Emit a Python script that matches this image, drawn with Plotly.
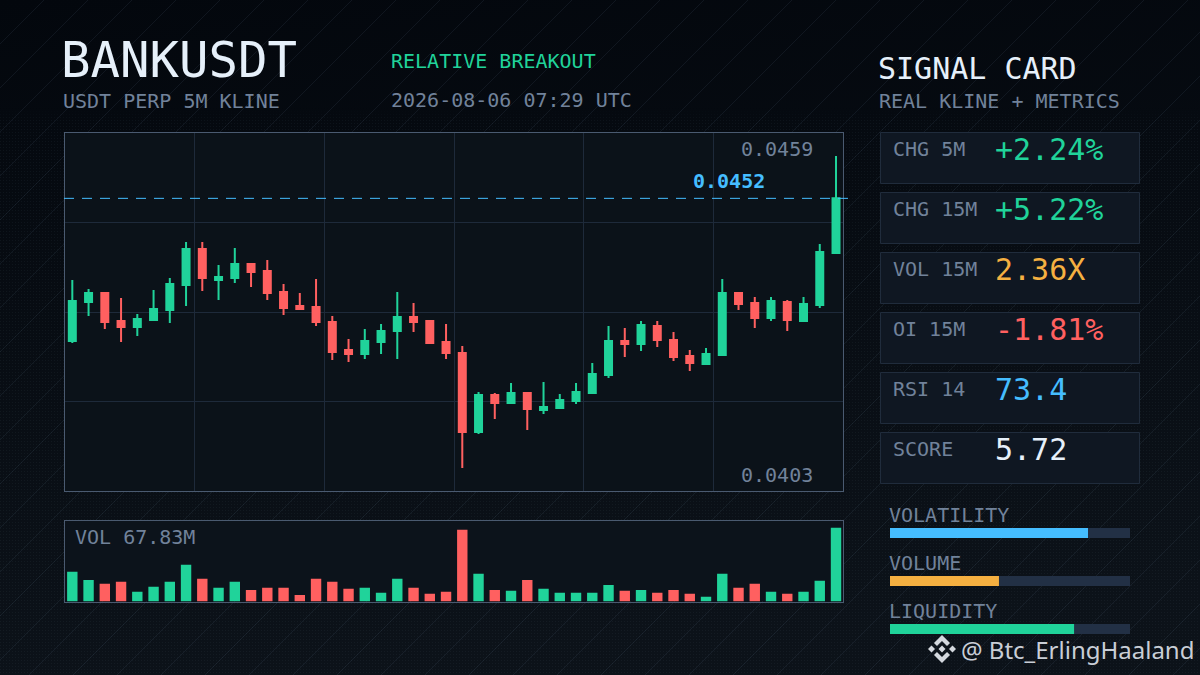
import base64
import plotly.graph_objects as go

# ---------- data ----------
OPEN = [0.042566,0.043277,0.043441,0.042931,0.042821,0.042949,0.043131,0.043587,0.044244,0.043679,0.043715,0.043970,
        0.043843,0.043460,0.043204,0.043186,0.042913,0.042402,0.042329,0.042548,0.042748,0.043004,0.042931,0.042548,
        0.042346,0.040906,0.041580,0.041434,0.041617,0.041307,0.041343,0.041471,0.041617,0.041945,0.042565,0.042511,
        0.042839,0.042584,0.042292,0.042146,0.042310,0.043441,0.043258,0.042985,0.043277,0.042930,0.043222,0.044170]
HIGH = [0.043679,0.043514,0.043460,0.043350,0.043058,0.043496,0.043715,0.044372,0.044372,0.043952,0.044262,0.043989,
        0.044043,0.043606,0.043441,0.043697,0.043022,0.042602,0.042785,0.042876,0.043460,0.043259,0.042949,0.042876,
        0.042474,0.041635,0.041617,0.041799,0.041635,0.041818,0.041599,0.041799,0.042164,0.042839,0.042802,0.042930,
        0.042930,0.042730,0.042401,0.042438,0.043696,0.043459,0.043368,0.043368,0.043313,0.043368,0.044335,0.045940]
LOW = [0.042529,0.043022,0.042785,0.042548,0.042657,0.042931,0.042894,0.043204,0.043478,0.043314,0.043624,0.043551,
       0.043314,0.043040,0.043150,0.042840,0.042219,0.042183,0.042238,0.042329,0.042238,0.042730,0.042511,0.042238,
       0.040249,0.040869,0.041143,0.041434,0.040942,0.041234,0.041325,0.041416,0.041599,0.041890,0.042274,0.042383,
       0.042456,0.042201,0.042018,0.042128,0.042310,0.043131,0.042802,0.042930,0.042748,0.042912,0.043167,0.044152]
CLOSE = [0.043296,0.043441,0.042913,0.042821,0.042967,0.043150,0.043606,0.044244,0.043715,0.043733,0.043970,0.043825,
         0.043441,0.043168,0.043150,0.042913,0.042365,0.042329,0.042566,0.042748,0.043004,0.042913,0.042529,0.042347,
         0.040906,0.041580,0.041434,0.041617,0.041325,0.041362,0.041489,0.041635,0.041963,0.042565,0.042511,0.042857,
         0.042584,0.042274,0.042164,0.042328,0.043441,0.043240,0.042985,0.043295,0.042948,0.043240,0.044189,0.045168]
VOLUME_M = [27.3,19.9,16.3,18.1,8.9,13.5,18.1,33.8,20.9,12.6,18.1,10.7,12.6,12.6,6.1,20.9,18.1,11.7,12.6,8.0,20.9,12.6,7.1,8.9,
            66.0,25.5,10.7,9.8,19.9,11.7,8.0,8.0,8.0,15.3,9.8,10.7,8.0,10.7,7.1,4.3,25.5,12.6,16.3,8.9,7.1,8.9,19.0,67.83]
CARD_LABELS = ["CHG 5M", "CHG 15M", "VOL 15M", "OI 15M", "RSI 14", "SCORE"]
CARD_VALUES = ["+2.24%", "+5.22%", "2.36X", "-1.81%", "73.4", "5.72"]
METER_LABELS = ["VOLATILITY", "VOLUME", "LIQUIDITY"]
METER_VALUES = [0.825, 0.454, 0.767]
LAST_PRICE = 0.045168

# ---------- style ----------
GREEN, RED, BLUE, ORANGE, WHITE = "#20d39a", "#ff6060", "#45bdff", "#f5b041", "#e6f0fa"
SLATE = "#71829a"
MONO = "DejaVu Sans Mono"
CARD_COLORS = [GREEN, GREEN, ORANGE, RED, BLUE, WHITE]
METER_COLORS = [BLUE, ORANGE, GREEN]
PANEL_L, PANEL_R = 65, 843
XRANGE = [-0.45, 47.43]
YRANGE = [0.03983, 0.04636]
VRANGE = [0, 74.6]

def X(px): return px / 1200
def Y(py): return 1 - py / 675

svg = f'''<svg xmlns="http://www.w3.org/2000/svg" width="1200" height="675" viewBox="0 0 1200 675">
<defs>
<linearGradient id="g" x1="0" y1="0" x2="0.15" y2="1"><stop offset="0" stop-color="#03070d"/><stop offset="1" stop-color="#0c1219"/></linearGradient>
<pattern id="d" width="3" height="3" patternUnits="userSpaceOnUse"><rect width="1" height="1" fill="#8fb0d0" fill-opacity="0.06"/></pattern>
<pattern id="l" width="44" height="44" patternUnits="userSpaceOnUse"><path d="M44 0 L0 44 M-1 1 L1 -1 M43 45 L45 43" stroke="#8fb0d0" stroke-opacity="0.085" stroke-width="1" fill="none"/></pattern>
<linearGradient id="f" x1="0" y1="0" x2="0" y2="1"><stop offset="0" stop-color="#fff" stop-opacity="0"/><stop offset="0.16" stop-color="#fff" stop-opacity="0"/><stop offset="0.18" stop-color="#fff" stop-opacity="1"/></linearGradient>
<mask id="m"><rect width="1200" height="675" fill="url(#f)"/></mask>
</defs>
<rect width="1200" height="675" fill="url(#g)"/>
<rect width="1200" height="675" fill="url(#l)"/>
<rect width="1200" height="675" fill="url(#d)" mask="url(#m)"/>
</svg>'''
bg_uri = "data:image/svg+xml;base64," + base64.b64encode(svg.encode()).decode()

fig = go.Figure()
x = list(range(len(OPEN)))

fig.add_trace(go.Candlestick(
    x=x, open=OPEN, high=HIGH, low=LOW, close=CLOSE, xaxis="x", yaxis="y",
    increasing=dict(line=dict(color=GREEN, width=2), fillcolor=GREEN),
    decreasing=dict(line=dict(color=RED, width=2), fillcolor=RED),
    whiskerwidth=0, hoverinfo="skip", showlegend=False))

fig.add_trace(go.Bar(
    x=x, y=VOLUME_M, xaxis="x2", yaxis="y2", width=0.64,
    marker=dict(color=[GREEN if c >= o else RED for o, c in zip(OPEN, CLOSE)], line_width=0),
    hoverinfo="skip", showlegend=False))

meter_pos = list(range(len(METER_VALUES)))
fig.add_trace(go.Bar(
    y=meter_pos, x=[1] * len(METER_VALUES), orientation="h", xaxis="x3", yaxis="y3", width=0.208,
    marker=dict(color="#223045", line_width=0), hoverinfo="skip", showlegend=False))
fig.add_trace(go.Bar(
    y=meter_pos, x=METER_VALUES, orientation="h", xaxis="x3", yaxis="y3", width=0.208,
    marker=dict(color=METER_COLORS, line_width=0), hoverinfo="skip", showlegend=False))

shapes = []
# panel fills
for (l, t, r, b, c) in [(65, 133, 843, 491, "#0b1219"), (65, 520, 843, 601, "#0c131b")]:
    shapes.append(dict(type="rect", xref="paper", yref="paper", x0=X(l), x1=X(r), y0=Y(b), y1=Y(t),
                       fillcolor=c, line_width=0, layer="below"))
# cards
for i in range(6):
    t = 132.5 + 60 * i
    shapes.append(dict(type="rect", xref="paper", yref="paper", x0=X(880.5), x1=X(1139.5), y0=Y(t + 51), y1=Y(t),
                       fillcolor="#0f1722", line=dict(color="#202c3c", width=1), layer="below"))
# last price line
shapes.append(dict(type="line", xref="paper", yref="y", x0=X(64), x1=X(848), y0=LAST_PRICE, y1=LAST_PRICE,
                   line=dict(color=BLUE, width=1, dash="10px,8px"), layer="above"))
# exchange mark
ICON = "#d4d8de"
def poly(pts):
    return "M" + " L".join(f"{X(a):.5f},{Y(b):.5f}" for a, b in pts) + " Z"
cx, cy = 942, 649
for pts in [
    [(cx, cy-14), (cx+8, cy-6), (cx+5, cy-3), (cx, cy-8), (cx-5, cy-3), (cx-8, cy-6)],
    [(cx, cy+14), (cx+8, cy+6), (cx+5, cy+3), (cx, cy+8), (cx-5, cy+3), (cx-8, cy+6)],
    [(cx, cy-3.5), (cx+3.5, cy), (cx, cy+3.5), (cx-3.5, cy)],
    [(cx-10.5, cy-3.5), (cx-7, cy), (cx-10.5, cy+3.5), (cx-14, cy)],
    [(cx+10.5, cy-3.5), (cx+14, cy), (cx+10.5, cy+3.5), (cx+7, cy)],
]:
    shapes.append(dict(type="path", xref="paper", yref="paper", path=poly(pts), fillcolor=ICON, line_width=0, layer="above"))

def text(s, px, py, size, color, anchor="left", weight="normal", family=MONO):
    return dict(text=s, x=X(px), y=Y(py), xref="paper", yref="paper", xanchor=anchor, yanchor="middle",
                showarrow=False, align=anchor, borderpad=0,
                font=dict(family=family, size=size, color=color, weight=weight))

ann = [
    text("BANKUSDT", 60, 60, 49, WHITE),
    text("USDT PERP 5M KLINE", 62, 101, 20, SLATE),
    text("RELATIVE BREAKOUT", 390, 61, 20, GREEN),
    text("2026-08-06 07:29 UTC", 390, 99.5, 20, SLATE),
    text("SIGNAL CARD", 877, 68.5, 30, WHITE),
    text("REAL KLINE + METRICS", 878, 101, 20, SLATE),
    text("0.0459", 740, 149, 20, SLATE),
    text("0.0452", 692, 181, 20, BLUE, weight="bold"),
    text("0.0403", 740, 475, 20, SLATE),
    text("VOL 67.83M", 74, 537, 20, SLATE),
    text("@ Btc_ErlingHaaland", 960, 649, 24, "#c9ced6", family="Noto Sans"),
]
for i, (lab, val, col) in enumerate(zip(CARD_LABELS, CARD_VALUES, CARD_COLORS)):
    ann.append(text(lab, 892, 148.8 + 60 * i, 20, SLATE))
    ann.append(text(val, 994, 149.8 + 60 * i, 30, col))
for i, lab in enumerate(METER_LABELS):
    ann.append(text(lab, 888, 515 + 48 * i, 20, SLATE))

def dom_x(l, r): return [X(l), X(r)]
def dom_y(t, b): return [Y(b), Y(t)]

xticks = [XRANGE[0] + (XRANGE[1] - XRANGE[0]) * k / 6 for k in range(1, 6)]
yticks = [YRANGE[0] + (YRANGE[1] - YRANGE[0]) * k / 4 for k in range(1, 4)]
border = "#4a5a70"

fig.update_layout(
    width=1200, height=675, margin=dict(l=0, r=0, t=0, b=0), autosize=False,
    paper_bgcolor="#070b11", plot_bgcolor="rgba(0,0,0,0)",
    showlegend=False, barmode="overlay", boxgap=0.385, hovermode=False,
    images=[dict(source=bg_uri, xref="paper", yref="paper", x=0, y=1, sizex=1, sizey=1,
                 xanchor="left", yanchor="top", sizing="stretch", layer="below")],
    shapes=shapes, annotations=ann,
    xaxis=dict(domain=dom_x(PANEL_L, PANEL_R), range=XRANGE, anchor="y", rangeslider=dict(visible=False),
               tickmode="array", tickvals=xticks, showticklabels=False, ticks="", showgrid=True,
               gridcolor="#1e2a3a", gridwidth=1, zeroline=False, showline=True, linecolor=border, linewidth=1, mirror=True),
    yaxis=dict(domain=dom_y(133, 491), range=YRANGE, anchor="x",
               tickmode="array", tickvals=yticks, showticklabels=False, ticks="", showgrid=True,
               gridcolor="#1e2a3a", gridwidth=1, zeroline=False, showline=True, linecolor=border, linewidth=1, mirror=True),
    xaxis2=dict(domain=dom_x(PANEL_L, PANEL_R), range=XRANGE, anchor="y2", showticklabels=False, ticks="",
                showgrid=False, zeroline=False, showline=True, linecolor=border, linewidth=1, mirror=True),
    yaxis2=dict(domain=dom_y(520.5, 601.5), range=VRANGE, anchor="x2", showticklabels=False, ticks="",
                showgrid=False, zeroline=False, showline=True, linecolor=border, linewidth=1, mirror=True),
    xaxis3=dict(domain=dom_x(890, 1130), range=[0, 1], anchor="y3", visible=False, fixedrange=True),
    yaxis3=dict(domain=dom_y(509, 653), range=[2.5, -0.5], anchor="x3", visible=False, fixedrange=True),
)

fig.write_html("out.html", config=dict(displayModeBar=False), post_script="document.body.style.margin='0';")
